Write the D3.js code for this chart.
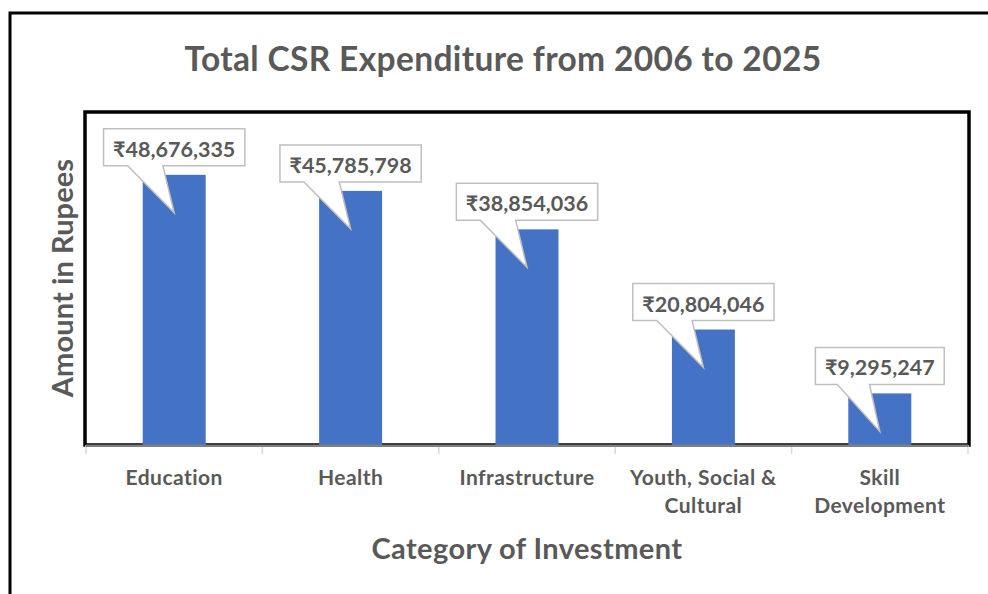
<!DOCTYPE html>
<html>
<head>
<meta charset="utf-8">
<script src="https://cdn.jsdelivr.net/npm/d3@7"></script>
<style>
  html, body { margin: 0; padding: 0; background: #fff; }
  svg { display: block; }
  text { font-family: Lato, "Noto Sans", "DejaVu Sans", sans-serif; font-weight: bold; fill: #595959; }
</style>
</head>
<body>
<svg id="chart" width="988" height="594"></svg>
<script>
// Total CSR spend by category of investment, 2006–2025 (in rupees)
const categories = ["Education", "Health", "Infrastructure", "Youth, Social & Cultural", "Skill Development"];
const amounts = [48676335, 45785798, 38854036, 20804046, 9295247];
const tickLabels = [["Education"], ["Health"], ["Infrastructure"], ["Youth, Social &", "Cultural"], ["Skill", "Development"]];
const yDomain = [0, 60000000];

const chartTitle = "Total CSR Expenditure from 2006 to 2025";
const xTitle = "Category of Investment";
const yTitle = "Amount in Rupees";

const svg = d3.select("#chart");

const plot = { left: 85, right: 969, top: 112, bottom: 445 };

const x = d3.scaleBand()
  .domain(categories)
  .range([plot.left + 1, plot.right - 1])
  .paddingInner(0.643)
  .paddingOuter(0.3215);

const y = d3.scaleLinear().domain(yDomain).range([plot.bottom, plot.top]);

const fmt = v => "₹" + d3.format(",")(v);

// outer chart frame (extends past the right and bottom edges)
svg.append("rect")
  .attr("x", 10).attr("y", 13)
  .attr("width", 1000).attr("height", 620)
  .attr("fill", "none").attr("stroke", "#000").attr("stroke-width", 3);

// title
svg.append("text")
  .attr("x", 503).attr("y", 71)
  .attr("text-anchor", "middle")
  .style("font-size", "33.5px")
  .style("letter-spacing", "0.35px")
  .text(chartTitle);

// plot area frame
svg.append("rect")
  .attr("x", plot.left).attr("y", plot.top)
  .attr("width", plot.right - plot.left).attr("height", plot.bottom - plot.top)
  .attr("fill", "#fff").attr("stroke", "#000").attr("stroke-width", 3.5);

// bars
svg.append("g").selectAll("rect")
  .data(categories)
  .join("rect")
  .attr("x", d => x(d))
  .attr("y", (d, i) => y(amounts[i]))
  .attr("width", x.bandwidth())
  .attr("height", (d, i) => y(0) - y(amounts[i]))
  .attr("fill", "#4472C4");

// category axis line and boundary ticks
const step = x.step();
const gap = step - x.bandwidth();
const bounds = categories.map(c => x(c) - gap / 2).concat([x(categories[categories.length - 1]) + x.bandwidth() + gap / 2]);

svg.append("g").selectAll("line")
  .data(bounds)
  .join("line")
  .attr("x1", d => d).attr("x2", d => d)
  .attr("y1", y(0)).attr("y2", y(0) + 9)
  .attr("stroke", "#d9d9d9").attr("stroke-width", 1.5);

svg.append("line")
  .attr("x1", bounds[0]).attr("x2", bounds[bounds.length - 1])
  .attr("y1", y(0) + 0.8).attr("y2", y(0) + 0.8)
  .attr("stroke", "#7f7f7f").attr("stroke-width", 2.6);

// category labels
const labelG = svg.append("g").selectAll("text")
  .data(categories)
  .join("text")
  .attr("text-anchor", "middle")
  .style("font-size", "21px")
  .style("letter-spacing", "0.45px")
  .attr("x", d => x(d) + x.bandwidth() / 2)
  .attr("y", 484.5);
labelG.each(function(d, i) {
  d3.select(this).selectAll("tspan")
    .data(tickLabels[i])
    .join("tspan")
    .attr("x", x(d) + x.bandwidth() / 2)
    .attr("dy", (t, j) => j === 0 ? 0 : 28.5)
    .text(t => t);
});

// axis titles
svg.append("text")
  .attr("x", 527).attr("y", 559)
  .attr("text-anchor", "middle")
  .style("font-size", "29px")
  .style("letter-spacing", "0.4px")
  .text(xTitle);

svg.append("text")
  .attr("transform", "translate(73,278) rotate(-90)")
  .attr("text-anchor", "middle")
  .style("font-size", "29px")
  .style("letter-spacing", "0.1px")
  .text(yTitle);

// value callouts pointing into each bar
const callouts = svg.append("g");
categories.forEach((c, i) => {
  const cx = x(c) + x.bandwidth() / 2;
  const top = y(amounts[i]);
  const g = callouts.append("g");
  const path = g.append("path");
  const label = g.append("text")
    .attr("text-anchor", "middle")
    .style("font-size", "21.5px")
    .attr("x", cx)
    .attr("y", top - 18)
    .text(fmt(amounts[i]));
  const tw = label.node().getComputedTextLength();
  const w = tw + 19;
  const h = 37;
  const x0 = cx - w / 2, x1 = cx + w / 2;
  const yb = top - 9, yt = yb - h;
  const tipY = top + 38;
  const bl = x0 + 0.17 * w, br = x0 + 0.42 * w;
  path.attr("d", `M${x0},${yt}H${x1}V${yb}H${br}L${cx},${tipY}L${bl},${yb}H${x0}Z`)
    .attr("fill", "#fff").attr("stroke", "#bfbfbf").attr("stroke-width", 1.5)
    .attr("stroke-linejoin", "miter");
});
</script>
</body>
</html>
